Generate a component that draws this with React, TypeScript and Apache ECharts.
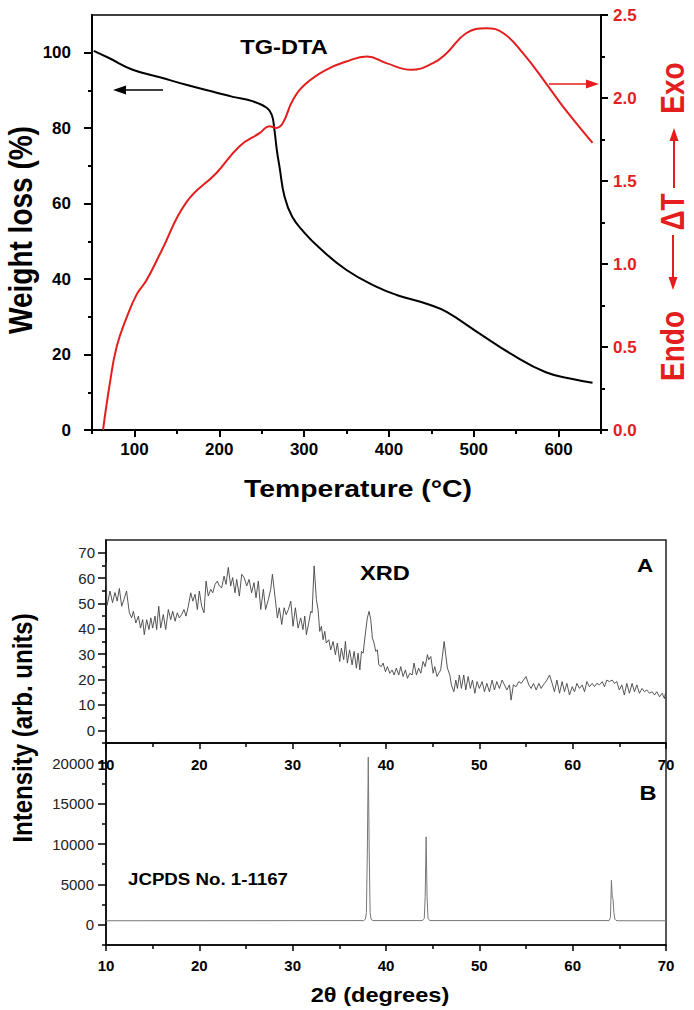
import React, { useEffect, useRef } from 'react';
import * as echarts from 'echarts';

// ---- TG (weight loss) ----
const tgTemp = [52, 70, 98, 130, 161, 197, 216, 240, 256, 262, 265, 268, 271, 277, 286, 300, 318, 350, 385, 409, 448, 468, 506, 546, 585, 615, 640];
const tgWeight = [100.5, 98.6, 95.5, 93.5, 91.5, 89.4, 88.3, 87.1, 85.4, 83.5, 79.6, 74.0, 69.8, 61.8, 56.5, 52.4, 48.3, 42.4, 38.0, 35.8, 33.2, 31.3, 25.7, 19.9, 15.3, 13.6, 12.5];

// ---- DTA ----
const dtaTemp = [63, 71, 79, 91, 103, 114, 132, 161, 197, 224, 248, 259, 267, 275, 287, 303, 326, 350, 374, 397, 426, 452, 468, 491, 515, 535, 558, 585, 605, 640];
const dtaSignal = [0, 0.28, 0.5, 0.68, 0.82, 0.9, 1.08, 1.37, 1.55, 1.71, 1.79, 1.83, 1.82, 1.85, 1.99, 2.09, 2.17, 2.22, 2.25, 2.21, 2.17, 2.21, 2.27, 2.39, 2.42, 2.39, 2.27, 2.09, 1.95, 1.73];

// ---- XRD (A): measured pattern ----
const xrdATheta = [
  10.00, 10.04, 10.08, 10.14, 10.43, 10.70, 10.96, 11.20, 11.43, 11.68, 11.93, 12.20, 12.50, 12.75, 12.93, 13.20, 13.47, 13.70, 13.93, 14.10,
  14.36, 14.60, 14.80, 15.00, 15.25, 15.43, 15.65, 15.86, 16.14, 16.40, 16.68, 16.93, 17.15, 17.40, 17.64, 17.86, 18.10, 18.36, 18.57, 18.82,
  19.08, 19.30, 19.54, 19.79, 20.00, 20.25, 20.50, 20.72, 20.96, 21.22, 21.44, 21.68, 21.93, 22.14, 22.40, 22.65, 22.86, 23.10, 23.36, 23.57,
  23.82, 24.00, 24.29, 24.54, 24.79, 25.08, 25.33, 25.60, 25.86, 26.07, 26.32, 26.58, 26.86, 27.10, 27.40, 27.65, 27.83, 28.10, 28.36, 28.57,
  28.83, 29.08, 29.30, 29.54, 29.80, 30.04, 30.29, 30.58, 30.86, 31.10, 31.30, 31.47, 31.72, 31.94, 32.08, 32.30, 32.54, 32.72, 32.90, 33.08,
  33.26, 33.44, 33.60, 33.87, 34.08, 34.33, 34.58, 34.79, 35.04, 35.22, 35.47, 35.65, 35.86, 36.10, 36.37, 36.58, 36.83, 37.00, 37.20, 37.37,
  37.55, 37.80, 38.00, 38.19, 38.37, 38.54, 38.72, 38.90, 39.08, 39.23, 39.50, 39.69, 39.94, 40.15, 40.40, 40.65, 40.87, 41.10, 41.37, 41.58,
  41.83, 42.08, 42.30, 42.55, 42.80, 43.00, 43.26, 43.50, 43.73, 43.97, 44.20, 44.44, 44.58, 44.80, 45.05, 45.22, 45.47, 45.65, 45.86, 46.04,
  46.23, 46.40, 46.58, 46.84, 47.00, 47.27, 47.48, 47.65, 47.86, 48.08, 48.33, 48.55, 48.80, 49.04, 49.26, 49.52, 49.76, 50.00, 50.30, 50.55,
  50.80, 51.08, 51.37, 51.62, 51.87, 52.15, 52.44, 52.69, 52.95, 53.23, 53.40, 53.65, 53.94, 54.23, 54.48, 54.73, 55.00, 55.30, 55.55, 55.80,
  56.09, 56.38, 56.62, 56.98, 57.24, 57.52, 57.80, 58.05, 58.31, 58.59, 58.87, 59.12, 59.38, 59.66, 59.95, 60.20, 60.45, 60.73, 61.02, 61.27,
  61.52, 61.80, 62.09, 62.34, 62.59, 62.87, 63.16, 63.41, 63.66, 63.94, 64.23, 64.48, 64.73, 65.00, 65.26, 65.54, 65.80, 66.08, 66.37, 66.62,
  66.88, 67.15, 67.44, 67.69, 67.94, 68.23, 68.52, 68.76, 69.02, 69.30, 69.59, 69.83, 69.94
];
const xrdAIntensity = [
  57, 66, 49, 49.6, 54.9, 50.3, 54.3, 50.9, 55.9, 48.9, 51.6, 54.9, 46.3, 44.3, 46.9, 42.3, 45.0, 40.3, 43.6, 37.7,
  43.6, 39.7, 44.3, 40.3, 45.0, 39.7, 48.9, 40.3, 45.6, 39.7, 47.6, 43.6, 46.9, 43.0, 46.3, 44.3, 45.6, 47.6, 45.0, 48.9,
  54.2, 50.9, 53.6, 47.6, 54.9, 48.9, 46.3, 58.8, 52.9, 55.6, 54.2, 57.5, 58.8, 56.9, 56.2, 60.8, 57.5, 64.2, 56.9, 60.2,
  54.2, 59.5, 52.9, 61.5, 60.2, 56.9, 59.5, 54.2, 58.2, 52.2, 58.8, 47.6, 55.6, 47.6, 51.6, 55.6, 61.5, 52.9, 44.3, 48.3,
  41.7, 48.3, 45.6, 47.6, 50.9, 41.0, 48.3, 40.3, 44.3, 39.7, 45.0, 37.7, 42.3, 46.9, 46.3, 64.8, 51.6, 47.6, 39.0, 41.0,
  35.7, 39.0, 34.4, 35.7, 31.7, 35.0, 29.8, 34.4, 27.1, 32.4, 27.8, 35.0, 26.5, 31.7, 25.8, 31.1, 24.5, 30.4, 23.8, 31.1,
  30.4, 38.4, 44.3, 46.9, 43.6, 36.4, 34.4, 31.1, 31.7, 25.8, 25.1, 26.5, 23.1, 25.1, 22.5, 23.8, 21.8, 24.5, 21.8, 25.1,
  21.2, 23.8, 20.5, 22.5, 21.8, 26.5, 21.8, 24.5, 22.5, 27.1, 25.1, 29.8, 27.8, 29.1, 22.5, 25.1, 21.2, 22.5, 23.8, 29.1,
  35.0, 29.8, 24.5, 21.8, 17.9, 15.2, 19.8, 16.5, 21.8, 16.5, 21.8, 15.9, 21.2, 16.5, 19.8, 14.6, 19.2, 16.5, 19.2, 15.2,
  18.5, 15.2, 19.8, 15.9, 19.2, 16.5, 19.8, 17.9, 15.9, 17.9, 11.9, 17.9, 17.2, 19.2, 18.5, 19.8, 21.2, 17.9, 16.5, 18.5,
  15.9, 18.5, 16.5, 18.5, 19.8, 21.8, 18.5, 15.2, 19.8, 14.6, 19.2, 15.2, 18.5, 13.9, 17.2, 15.2, 18.5, 16.5, 17.9, 15.2,
  19.2, 17.2, 18.5, 17.2, 18.5, 17.9, 19.2, 17.2, 19.8, 19.2, 19.8, 18.5, 19.2, 15.9, 17.9, 13.9, 18.5, 14.6, 18.5, 15.2,
  17.9, 14.6, 16.5, 15.2, 15.9, 14.6, 15.2, 13.9, 15.2, 13.2, 14.6, 12.5, 14.6
];

// ---- XRD (B): JCPDS reference ----
const xrdBTheta = [10, 37.6, 37.8, 37.9, 38.0, 38.1, 38.2, 38.3, 38.4, 38.6, 43.9, 44.1, 44.2, 44.3, 44.4, 44.5, 44.7, 63.9, 64.05, 64.15, 64.25, 64.32, 64.42, 64.52, 64.65, 64.9, 70];
const xrdBIntensity = [500, 520, 700, 1500, 9000, 20750, 9000, 1500, 700, 520, 520, 800, 3500, 10875, 3500, 800, 520, 520, 900, 5500, 3300, 3250, 1500, 700, 540, 500, 500];

// ---- tick labels ----
const tempMajorTicks = [100, 200, 300, 400, 500, 600];
const tempMinorTicks = [50, 150, 250, 350, 450, 550, 650];
const weightMajorTicks = [0, 20, 40, 60, 80, 100];
const weightMinorTicks = [10, 30, 50, 70, 90];
const xrdAMajorTicks = [0, 10, 20, 30, 40, 50, 60, 70];
const xrdAMinorTicks = [-5, 5, 15, 25, 35, 45, 55, 65];
const xrdBMajorTicks = [0, 5000, 10000, 15000, 20000];
const xrdBMinorTicks = [-2500, 2500, 7500, 12500, 17500];

const FONT = '"Liberation Sans", Arial, Helvetica, sans-serif';
const RED = '#e41e1e';

const zip = (a: number[], b: number[]) => a.map((v, i) => [v, b[i]]);

const blackLine = (w: number) => ({ color: '#000', width: w });
const plain = (v: number) => String(v);

function minorAxis(gridIndex: number, min: number, max: number, values: number[], position: string, len: number, w: number) {
  return {
    type: 'value', gridIndex, min, max, position, offset: 0,
    axisLine: { show: false, onZero: false },
    axisTick: { show: true, customValues: values, length: len, lineStyle: blackLine(w) },
    axisLabel: { show: false },
    splitLine: { show: false },
  };
}

function text(t: string, x: number, y: number, size: number, opts: any = {}) {
  const rot = opts.rotate ? Math.PI / 2 : 0;
  return {
    type: 'text', x, y, z: 100,
    rotation: rot,
    scaleX: opts.rotate ? 1 : (opts.stretch ?? 1.18),
    scaleY: opts.rotate ? (opts.stretch ?? 1.18) : 1,
    style: {
      text: t,
      fill: opts.color ?? '#000',
      fontSize: size,
      fontWeight: opts.weight ?? 'bold',
      fontFamily: FONT,
      align: opts.align ?? 'center',
      verticalAlign: 'middle',
    },
  };
}

function hArrow(x1: number, x2: number, y: number, color: string) {
  const dir = x2 > x1 ? 1 : -1;
  return [
    { type: 'line', z: 100, shape: { x1, y1: y, x2: x2 - dir * 8, y2: y }, style: { stroke: color, lineWidth: 1.6 } },
    { type: 'polygon', z: 100, shape: { points: [[x2, y], [x2 - dir * 13, y - 4.5], [x2 - dir * 13, y + 4.5]] }, style: { fill: color } },
  ];
}

function vArrow(x: number, y1: number, y2: number, color: string) {
  const dir = y2 > y1 ? 1 : -1;
  return [
    { type: 'line', z: 100, shape: { x1: x, y1, x2: x, y2: y2 - dir * 8 }, style: { stroke: color, lineWidth: 2 } },
    { type: 'polygon', z: 100, shape: { points: [[x, y2], [x - 4.5, y2 - dir * 13], [x + 4.5, y2 - dir * 13]] }, style: { fill: color } },
  ];
}

const option: any = {
  animation: false,
  backgroundColor: '#fff',
  grid: [
    { left: 92, top: 15, width: 509, height: 415, show: true, borderColor: '#000', borderWidth: 1.5 },
    { left: 106, top: 540, width: 560, height: 203, show: true, borderColor: '#222', borderWidth: 1.5 },
    { left: 106, top: 743, width: 560, height: 202, show: true, borderColor: '#222', borderWidth: 1.5 },
  ],
  xAxis: [
    {
      type: 'value', gridIndex: 0, position: 'bottom', min: 50, max: 650, interval: 50,
      axisLine: { show: true, onZero: false, lineStyle: blackLine(2) },
      axisTick: { show: true, customValues: tempMajorTicks, length: 7, lineStyle: blackLine(2) },
      axisLabel: { customValues: tempMajorTicks, formatter: plain, color: '#000', fontWeight: 'bold', fontSize: 17, fontFamily: FONT, margin: 11 },
      splitLine: { show: false },
    },
    minorAxis(0, 50, 650, tempMinorTicks, 'bottom', 4, 2),
    {
      type: 'value', gridIndex: 1, position: 'bottom', min: 10, max: 70, interval: 10,
      axisLine: { show: true, onZero: false, lineStyle: blackLine(1.5) },
      axisTick: { show: true, length: 6, lineStyle: blackLine(1.5) },
      minorTick: { show: true, splitNumber: 2, length: 4, lineStyle: blackLine(1.5) },
      axisLabel: { formatter: plain, color: '#000', fontWeight: 'bold', fontSize: 15, fontFamily: FONT, margin: 14 },
      splitLine: { show: false },
    },
    {
      type: 'value', gridIndex: 2, position: 'bottom', min: 10, max: 70, interval: 10,
      axisLine: { show: true, onZero: false, lineStyle: blackLine(1.5) },
      axisTick: { show: true, length: 6, lineStyle: blackLine(1.5) },
      minorTick: { show: true, splitNumber: 2, length: 4, lineStyle: blackLine(1.5) },
      axisLabel: { formatter: plain, color: '#000', fontWeight: 'bold', fontSize: 15, fontFamily: FONT, margin: 13 },
      splitLine: { show: false },
    },
  ],
  yAxis: [
    {
      type: 'value', gridIndex: 0, position: 'left', offset: 0, min: 0, max: 110, interval: 20,
      axisLine: { show: true, onZero: false, lineStyle: blackLine(2) },
      axisTick: { show: true, customValues: weightMajorTicks, length: 8, lineStyle: blackLine(2) },
      axisLabel: { customValues: weightMajorTicks, formatter: plain, color: '#000', fontWeight: 'bold', fontSize: 17, fontFamily: FONT, margin: 21 },
      splitLine: { show: false },
    },
    {
      type: 'value', gridIndex: 0, position: 'right', offset: 0, min: 0, max: 2.5, interval: 0.5,
      axisLine: { show: true, onZero: false, lineStyle: blackLine(2) },
      axisTick: { show: true, length: 7, lineStyle: blackLine(2) },
      minorTick: { show: true, splitNumber: 2, length: 4, lineStyle: blackLine(2) },
      axisLabel: { color: RED, fontWeight: 'bold', fontSize: 17, fontFamily: FONT, margin: 12, formatter: (v: number) => v.toFixed(1) },
      splitLine: { show: false },
    },
    minorAxis(0, 0, 110, weightMinorTicks, 'left', 4, 2),
    {
      type: 'value', gridIndex: 1, position: 'left', offset: 0, min: -5, max: 75, interval: 5,
      axisLine: { show: true, onZero: false, lineStyle: blackLine(1.5) },
      axisTick: { show: true, customValues: xrdAMajorTicks, length: 8, lineStyle: blackLine(1.5) },
      axisLabel: { customValues: xrdAMajorTicks, formatter: plain, color: '#222', fontSize: 15, fontFamily: FONT, margin: 11 },
      splitLine: { show: false },
    },
    minorAxis(1, -5, 75, xrdAMinorTicks, 'left', 4, 1.5),
    {
      type: 'value', gridIndex: 2, position: 'left', offset: 0, min: -2500, max: 22500, interval: 2500,
      axisLine: { show: true, onZero: false, lineStyle: blackLine(1.5) },
      axisTick: { show: true, customValues: xrdBMajorTicks, length: 8, lineStyle: blackLine(1.5) },
      axisLabel: { customValues: xrdBMajorTicks, formatter: plain, color: '#222', fontSize: 15, fontFamily: FONT, margin: 12 },
      splitLine: { show: false },
    },
    minorAxis(2, -2500, 22500, xrdBMinorTicks, 'left', 4, 1.5),
  ],
  series: [
    {
      name: 'TG', type: 'line', xAxisIndex: 0, yAxisIndex: 0, data: zip(tgTemp, tgWeight),
      symbol: 'none', smooth: 0.45, lineStyle: { color: '#000', width: 2 }, silent: true,
    },
    {
      name: 'DTA', type: 'line', xAxisIndex: 0, yAxisIndex: 1, data: zip(dtaTemp, dtaSignal),
      symbol: 'none', smooth: 0.45, lineStyle: { color: RED, width: 2 }, silent: true,
    },
    {
      name: 'XRD A', type: 'line', xAxisIndex: 2, yAxisIndex: 3, data: zip(xrdATheta, xrdAIntensity),
      symbol: 'none', lineStyle: { color: '#444', width: 0.9 }, silent: true,
    },
    {
      name: 'XRD B', type: 'line', xAxisIndex: 3, yAxisIndex: 5, data: zip(xrdBTheta, xrdBIntensity),
      symbol: 'none', lineStyle: { color: '#777', width: 1 }, silent: true,
    },
  ],
  graphic: [
    text('TG-DTA', 284, 47, 20),
    text('Weight loss (%)', 20, 230, 28, { rotate: true }),
    text('Temperature (°C)', 358, 489, 24),
    text('Exo', 672, 88, 28, { rotate: true, color: RED }),
    text('ΔT', 672, 212, 28, { rotate: true, color: RED }),
    text('Endo', 672, 346, 28, { rotate: true, color: RED }),
    ...vArrow(674, 188, 128, RED),
    ...vArrow(673, 235, 290, RED),
    ...hArrow(163, 113, 90, '#000'),
    ...hArrow(549, 599, 84, RED),
    text('XRD', 385, 573, 20),
    text('A', 645, 565, 19),
    text('B', 648, 793, 20),
    text('JCPDS No. 1-1167', 128, 879, 17, { align: 'left', stretch: 1.1 }),
    text('Intensity (arb. units)', 22, 728, 24, { rotate: true }),
    text('2θ (degrees)', 380, 995, 20),
  ],
};

export default function App() {
  const ref = useRef<HTMLDivElement>(null);
  useEffect(() => {
    document.body.style.margin = '0';
    const chart = echarts.init(ref.current as HTMLDivElement, null, { renderer: 'svg' });
    chart.setOption(option);
    return () => chart.dispose();
  }, []);
  return <div ref={ref} style={{ position: 'absolute', left: 0, top: 0, width: 694, height: 1010 }} />;
}
